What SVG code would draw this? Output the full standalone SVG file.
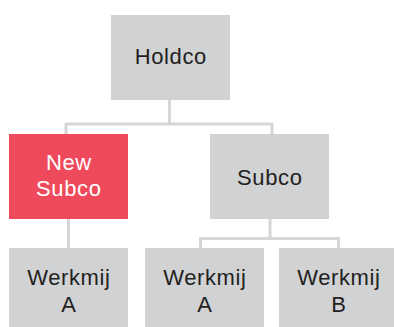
<svg xmlns="http://www.w3.org/2000/svg" width="394" height="327" viewBox="0 0 394 327">
<style>
.box{fill:#d1d2d4}
.red{fill:#ee4a5c}
.t{font-family:"Liberation Sans",Arial,Helvetica,sans-serif;font-size:22px;letter-spacing:0.6px;fill:#231f20;text-anchor:middle}
.w{fill:#ffffff}
.c{fill:none;stroke:#d6d6d6;stroke-width:3}
</style>
<rect width="394" height="327" fill="#ffffff"/>
<g id="connectors">
<path class="c" d="M169.5 100 V124 M66 134 V124 H272 V134"/>
<path class="c" d="M68.5 219 V248"/>
<path class="c" d="M270 219 V238.5 M200.5 248 V238.5 H338.5 V248"/>
</g>
<g id="holdco">
<rect class="box" x="111" y="15" width="119" height="85"/>
<text class="t" x="170.8" y="64">Holdco</text>
</g>
<g id="newsubco">
<rect class="red" x="9" y="134" width="119" height="85"/>
<text class="t w" x="68.8" y="170">New</text>
<text class="t w" x="68.8" y="196">Subco</text>
</g>
<g id="subco">
<rect class="box" x="210" y="134" width="119" height="85"/>
<text class="t" x="269.8" y="185">Subco</text>
</g>
<g id="werkmij-a1">
<rect class="box" x="9" y="248" width="119" height="85"/>
<text class="t" x="68.8" y="285">Werkmij</text>
<text class="t" x="68.8" y="311.5">A</text>
</g>
<g id="werkmij-a2">
<rect class="box" x="145" y="248" width="119" height="85"/>
<text class="t" x="204.8" y="285">Werkmij</text>
<text class="t" x="204.8" y="311.5">A</text>
</g>
<g id="werkmij-b">
<rect class="box" x="279" y="248" width="119" height="85"/>
<text class="t" x="338.8" y="285">Werkmij</text>
<text class="t" x="338.8" y="311.5">B</text>
</g>
</svg>
